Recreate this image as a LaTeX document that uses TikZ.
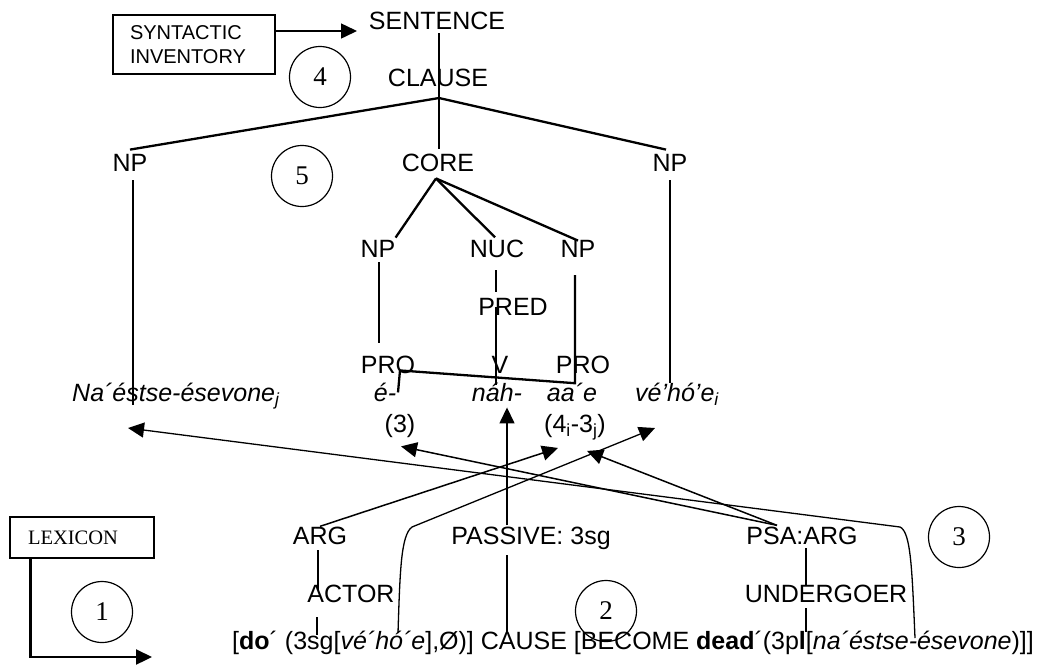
\documentclass[tikz,border=0pt]{standalone}
\usepackage{fontspec}
\setmainfont{Liberation Sans}
\newfontfamily\serifft{Liberation Serif}
\usetikzlibrary{arrows.meta,calc}
\begin{document}
\begin{tikzpicture}[x=1pt,y=-1pt,
  lbl/.style={font=\fontsize{25}{30}\selectfont, inner sep=0pt, anchor=base},
  ital/.style={font=\fontsize{25}{30}\selectfont\itshape, inner sep=0pt, anchor=base},
  tree/.style={line width=2.3pt},
  arr/.style={line width=1.5pt, -{Triangle[length=16pt,width=15pt]}},
  curv/.style={line width=1.3pt},
  circ/.style={draw, circle, minimum size=61pt, inner sep=0pt, line width=1.2pt, font=\serifft\fontsize{27}{30}\selectfont},
  box/.style={draw, line width=1.3pt, inner ysep=0pt, align=left}
]
\useasboundingbox (0,0) rectangle (1043,665);

% top
\node[lbl] (sentence) at (437,29) {SENTENCE};
\node[box, text width=128pt, inner xsep=17pt, minimum height=59pt, font=\fontsize{20}{24}\selectfont] (syn) at (194,44.5) {SYNTACTIC\\INVENTORY};
\coordinate (syntip) at (357,31);
\draw[arr] (syn.east |- syntip) -- (syntip);
\node[circ] (c4) at (320,77) {4};
\node[lbl] (clause) at (438,86) {CLAUSE};
\node[lbl] (npL) at (130,171) {NP};
\node[lbl] (core) at (438,171) {CORE};
\node[lbl] (npR) at (670,171) {NP};
\node[circ] (c5) at (302,176) {5};
\coordinate (br) at (439,98);
\draw[tree] ($(sentence.south)+(2,4)$) -- ($(core.north)+(1,-4)$);
\draw[tree] (br) -- ($(npL.north)+(0,-4)$);
\draw[tree] (br) -- ($(npR.north)+(-4,-4)$);

% core level
\node[lbl] (npIL) at (378,257) {NP};
\node[lbl] (nuc) at (497,257) {NUC};
\node[lbl] (npIR) at (578,257) {NP};
\draw[tree] ($(core.south)+(-2,7)$) -- ($(npIL.north east)+(0,-2)$);
\draw[tree] ($(core.south)+(-2,7)$) -- ($(nuc.north)+(-2,-2)$);
\draw[tree] ($(core.south)+(-2,7)$) -- ($(npIR.north)+(0,1)$);

\node[lbl] (pred) at (513,315) {PRED};
\node[lbl] (proL) at (388,373) {PRO};
\node[lbl] (v) at (500,373) {V};
\node[lbl] (proR) at (583,373) {PRO};

\draw[tree] ($(npIL.south)+(1,5)$) -- ($(npIL.south)+(1,86)$);
\draw[tree] ($(nuc.south)+(-1,13)$) -- ($(nuc.south)+(-1,35)$);
\draw[tree] ($(nuc.south)+(-1,50)$) -- ($(nuc.south)+(-1,128)$);
\draw[tree] ($(npIR.south)+(-3,18)$) -- ($(npIR.south)+(-3,126)$) -- ($(proL.south)+(12,-3)$) -- ($(proL.south)+(10,19)$);
\draw[tree] ($(npR.south)+(0,9)$) -- ($(npR.south)+(0,212)$);
\draw[tree] ($(npL.south)+(3,9)$) -- ($(npL.south)+(3,234)$);

% word row
\node[ital, anchor=base west] (na) at (72,401) {Na´éstse-ésevone\textsubscript{j}};
\node[ital] (e) at (385,401) {é-};
\node[ital] (nah) at (497,401) {náh-};
\node[ital] (aae) at (572,401) {aa´e};
\node[ital, anchor=base west] (ve) at (635,401) {vé’hó’e\textsubscript{i}};
\node[lbl] (three) at (400,432) {(3)};
\node[lbl] (fourthree) at (575,432) {(4\textsubscript{i}-3\textsubscript{j})};

% bottom
\node[box, font=\serifft\fontsize{20.5}{22}\selectfont, text width=108pt, inner xsep=18pt, minimum height=41pt] (lex) at (82,537.5) {LEXICON};
\coordinate (lextip) at (152,657);
\draw[tree, -{Triangle[length=16pt,width=15pt]}] ([xshift=21pt]lex.south west) |- (lextip);
\node[circ] (c1) at (102,612) {1};
\node[lbl] (arg) at (320,544) {ARG};
\node[lbl] (actor) at (351,602) {ACTOR};
\node[lbl] (passive) at (531,544) {PASSIVE: 3sg};
\node[lbl] (psa) at (802,544) {PSA:ARG};
\node[lbl] (under) at (826,602) {UNDERGOER};
\node[lbl, anchor=base west] (lsr) at (232,649) {[\textbf{do}´ (3sg[\textit{vé´hó´e}],Ø)] CAUSE [BECOME \textbf{dead}´(3p\textbf{l}[\textit{na´éstse-ésevone})]]};
\node[circ] (c2) at (606,611) {2};
\node[circ] (c3) at (959,537) {3};

\draw[tree] ($(arg.south)+(-2,6)$) -- ($(arg.south)+(-2,46)$);
\draw[tree] ($(actor.south)+(-34,15)$) -- ($(actor.south)+(-34,33)$);
\draw[tree] ($(psa.south)+(4,4)$) -- ($(psa.south)+(4,41)$);
\draw[tree] ($(under.south)+(-20,6)$) -- ($(under.south)+(-20,30)$);
\draw[tree] ($(passive.south)+(-24,6)$) -- ($(passive.south)+(-24,84)$);

% linking arrows
\draw[arr] ($(passive.north)+(-24,-1)$) -- ($(nah.south)+(10,6)$);
\draw[arr] (arg.north) -- ($(fourthree.south west)+(14,8)$);
\draw[arr, curv] ($(lsr.base west)+(166,-16)$) .. controls (400,570) and (401,535) .. (412,527) -- ($(ve.base west)+(20,27)$);
\draw[arr, curv] ($(lsr.base west)+(683,-11)$) .. controls (912,570) and (911,532) .. (900,527) -- ($(na.base west)+(56,27)$);
\draw[arr] ($(psa.north)+(-25,-1)$) -- ($(three.south)+(1,9)$);
\draw[arr] ($(psa.north)+(-25,-1)$) -- ($(fourthree.south)+(12,11)$);
\end{tikzpicture}
\end{document}
